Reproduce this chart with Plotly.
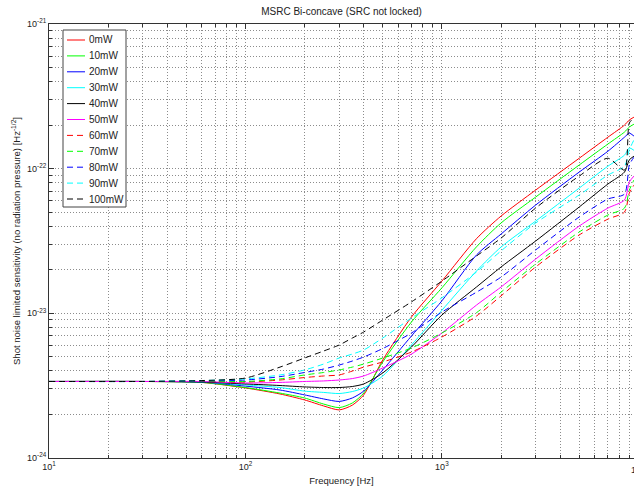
import plotly.graph_objects as go

# Frequencies [Hz]
freq = [10, 30, 60, 100, 150, 200, 250, 300, 350, 400, 500, 700, 1000,
        1500, 2000, 3000, 5000, 7000, 8500, 9000, 9500]

# Sensitivity values in units of 1e-24 Hz^-1/2
SCALE = 1e-24
s_0mW = [3.38, 3.38, 3.33, 3.05, 2.77, 2.52, 2.29, 2.15, 2.32, 2.73, 4.76, 9.43, 16.7, 32.8, 47.0, 71.1, 118, 165, 200, 217, 227]
s_10mW = [3.38, 3.38, 3.33, 3.07, 2.81, 2.60, 2.36, 2.23, 2.40, 2.81, 4.61, 8.71, 15.0, 28.8, 42.1, 63.6, 106, 148, 179, 194, 203]
s_20mW = [3.38, 3.38, 3.35, 3.14, 2.95, 2.73, 2.56, 2.46, 2.60, 2.90, 4.06, 6.97, 12.2, 25.3, 35.3, 56.0, 94.7, 132, 165, 176, 168]
s_30mW = [3.38, 3.38, 3.35, 3.20, 3.07, 2.90, 2.84, 2.79, 2.88, 3.05, 3.69, 6.04, 10.5, 19.6, 28.7, 43.4, 73.4, 104, 124, 139, 134]
s_40mW = [3.38, 3.38, 3.35, 3.25, 3.17, 3.10, 3.07, 3.07, 3.12, 3.25, 3.87, 5.85, 9.73, 15.2, 20.9, 31.6, 54.3, 78.3, 94.7, 115, 122]
s_50mW = [3.38, 3.38, 3.38, 3.30, 3.33, 3.38, 3.41, 3.46, 3.54, 3.69, 4.19, 5.23, 7.31, 11.4, 15.2, 23.7, 40.1, 53.4, 60.7, 80.8, 88.9]
s_60mW = [3.38, 3.38, 3.38, 3.35, 3.46, 3.60, 3.69, 3.75, 3.99, 4.25, 4.61, 5.40, 6.86, 9.58, 13.2, 20.9, 34.8, 44.8, 50.1, 67.8, 77.0]
s_70mW = [3.38, 3.38, 3.41, 3.38, 3.52, 3.75, 3.90, 4.06, 4.25, 4.46, 4.91, 5.76, 7.31, 10.1, 14.0, 21.9, 36.5, 47.8, 53.4, 71.1, 83.4]
s_80mW = [3.38, 3.38, 3.41, 3.46, 3.65, 3.90, 4.12, 4.39, 4.68, 4.99, 5.71, 7.31, 10.2, 14.0, 17.8, 27.4, 46.3, 61.7, 66.8, 106, 120]
s_90mW = [3.38, 3.38, 3.43, 3.52, 3.75, 4.06, 4.46, 4.91, 5.23, 5.58, 6.75, 9.28, 12.8, 19.3, 27.0, 42.1, 65.7, 90.3, 104, 135, 158]
s_100mW = [3.38, 3.38, 3.43, 3.57, 4.25, 4.91, 5.49, 6.04, 6.75, 7.43, 8.99, 12.0, 16.7, 24.9, 33.1, 53.4, 88.9, 118, 97.8, 207, 224]

labels = ["0mW", "10mW", "20mW", "30mW", "40mW", "50mW",
          "60mW", "70mW", "80mW", "90mW", "100mW"]
series = [s_0mW, s_10mW, s_20mW, s_30mW, s_40mW, s_50mW,
          s_60mW, s_70mW, s_80mW, s_90mW, s_100mW]
colors = ["#ff0000", "#00ff00", "#0000ff", "#00ffff", "#000000", "#ff00ff",
          "#ff0000", "#00ff00", "#0000ff", "#00ffff", "#000000"]
dashes = ["solid"] * 6 + ["6px,4px"] * 5

x_tickvals = [10, 100, 1000]
x_ticktext = ["10<sup>1</sup>", "10<sup>2</sup>", "10<sup>3</sup>"]
y_tickvals = [1e-24, 1e-23, 1e-22, 1e-21]
y_ticktext = ["10<sup>-24</sup>", "10<sup>-23</sup>", "10<sup>-22</sup>", "10<sup>-21</sup>"]

FONT = "Liberation Sans, Arial, Helvetica, sans-serif"

fig = go.Figure()
for lab, s, c, d in zip(labels, series, colors, dashes):
    fig.add_trace(go.Scatter(
        x=freq, y=[v * SCALE for v in s], mode="lines", name=lab,
        showlegend=False,
        line=dict(color=c, width=1, dash=d, shape="spline", smoothing=0.7),
    ))

grid_col = "#8c8c8c"
axis_col = "#333333"
gdash = "1px,2px"

W, H = 634, 494
ML, MR, MT, MB = 49, 0, 24, 36
PW, PH = W - ML - MR, H - MT - MB


def px_x(p):
    return (p - ML) / PW


def px_y(p):
    return (H - MB - p) / PH


fig.update_layout(
    width=W, height=H,
    margin=dict(l=ML, r=MR, t=MT, b=MB, pad=0),
    paper_bgcolor="white", plot_bgcolor="white",
    font=dict(family=FONT, size=10, color="#222222"),
    title=dict(text="MSRC Bi-concave (SRC not locked)", x=0.5, xref="paper",
               y=1 - 11 / H, yref="container", yanchor="middle",
               font=dict(size=10, family=FONT, color="#222222")),
    showlegend=False,
    xaxis=dict(
        type="log", range=[1, 3.978], showline=True, linecolor=axis_col,
        linewidth=1, mirror="ticks", ticks="inside", ticklen=5,
        tickcolor=axis_col, tickvals=x_tickvals, ticktext=x_ticktext,
        showgrid=True, gridcolor=grid_col, griddash=gdash, gridwidth=1,
        zeroline=False, tickfont=dict(size=9, family=FONT),
        title=dict(text="Frequency [Hz]", font=dict(size=9.5, family=FONT),
                   standoff=6),
        minor=dict(dtick="D1", ticks="inside", ticklen=3, tickcolor=axis_col,
                   showgrid=True, gridcolor=grid_col, griddash=gdash,
                   gridwidth=1),
    ),
    yaxis=dict(
        type="log", range=[-24, -21], showline=True, linecolor=axis_col,
        linewidth=1, mirror=False, ticks="inside", ticklen=5,
        tickcolor=axis_col, tickvals=y_tickvals, ticktext=y_ticktext,
        showgrid=True, gridcolor=grid_col, griddash=gdash, gridwidth=1,
        zeroline=False, tickfont=dict(size=9, family=FONT),
        title=dict(text="Shot noise limited sensitivity (no radiation pressure) [Hz<sup>-1/2</sup>]",
                   font=dict(size=9.5, family=FONT), standoff=4),
        minor=dict(dtick="D1", ticks="inside", ticklen=3, tickcolor=axis_col,
                   showgrid=True, gridcolor=grid_col, griddash=gdash,
                   gridwidth=1),
    ),
)

# MATLAB-style legend box (compact entries)
LEG_L, LEG_R, LEG_T, LEG_B = 63, 126, 30, 207
ROW0, ROW_STEP = 40, 15.9
fig.add_shape(type="rect", xref="paper", yref="paper",
              x0=px_x(LEG_L), x1=px_x(LEG_R), y0=px_y(LEG_B), y1=px_y(LEG_T),
              line=dict(color="#444444", width=1), fillcolor="white", layer="above")
for i, (lab, c, d) in enumerate(zip(labels, colors, dashes)):
    yy = px_y(ROW0 + i * ROW_STEP)
    fig.add_shape(type="line", xref="paper", yref="paper",
                  x0=px_x(67), x1=px_x(85), y0=yy, y1=yy,
                  line=dict(color=c, width=1, dash=d), layer="above")
    fig.add_annotation(x=px_x(87), y=yy, xref="paper", yref="paper",
                       text=lab, showarrow=False, xanchor="left",
                       yanchor="middle", font=dict(size=10, family=FONT,
                                                   color="#222222"))

# Cut-off 10^4 tick label at the right edge (axis extends past the window)
fig.add_annotation(x=1 + 4 / PW, y=0, xref="paper", yref="paper",
                   text="10<sup>4</sup>", showarrow=False, xanchor="center",
                   yanchor="top", yshift=-3, font=dict(size=9, family=FONT))

fig.write_html("out.html")
